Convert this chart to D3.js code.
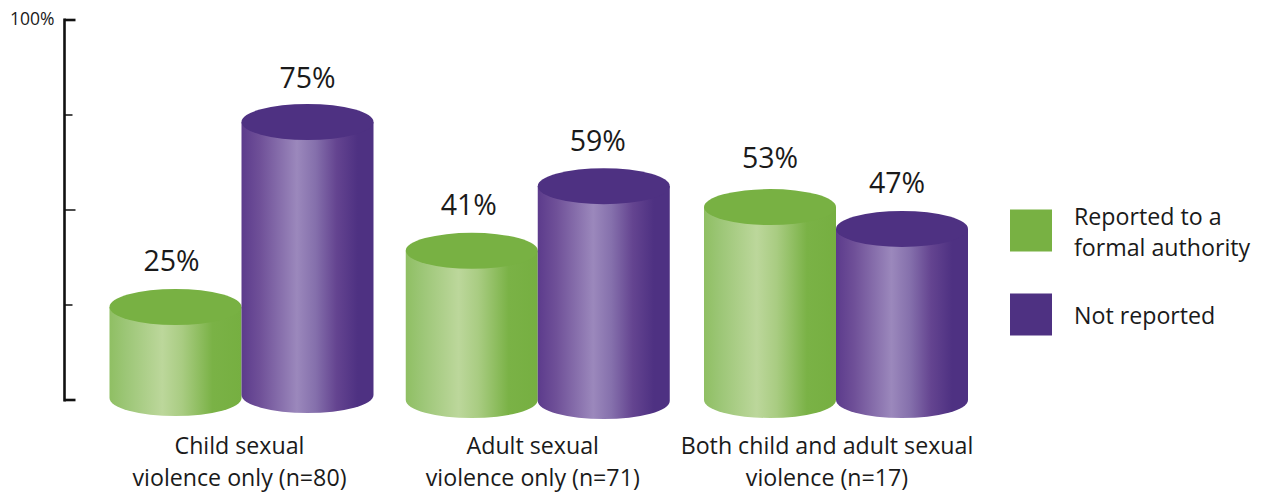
<!DOCTYPE html>
<html>
<head>
<meta charset="utf-8">
<script src="https://cdnjs.cloudflare.com/ajax/libs/d3/7.8.5/d3.min.js"></script>
<style>
  html, body { margin: 0; padding: 0; background: #fff; }
  svg { display: block; }
  text { font-family: "Open Sans", "Noto Sans", sans-serif; fill: #1a1a1a; }
</style>
</head>
<body>
<svg id="chart" width="1263" height="493"></svg>
<script>
// Share of survivors by reporting outcome, per violence category
const categories = [
  ["Child sexual", "violence only (n=80)"],
  ["Adult sexual", "violence only (n=71)"],
  ["Both child and adult sexual", "violence (n=17)"]
];
const reported = [25, 41, 53];
const notReported = [75, 59, 47];
const seriesNames = ["reported", "notReported"];
const legendLabels = [["Reported to a", "formal authority"], ["Not reported"]];
const axisTicks = [0, 25, 50, 75, 100];

// Hand placement: pairs are not evenly spaced and floors differ slightly
const pairNudge = [0, -1, 0];
const floorNudge = [[-2, -5], [0, 1], [0, 0]];
const labelDx = [[-4, 0], [-3, -6], [0, -5]];
const labelDy = [[-36, -34], [-36, -35], [-39, -36]];
const captionDx = [-2, -6, -9];

const svg = d3.select("#chart");
const W = 132, RY = 18;

const x = d3.scalePoint().domain(d3.range(categories.length)).range([241.5, 836]);
const axisY = d3.scaleLinear().domain([0, 100]).range([400, 20]);
const barH = d3.scaleLinear().domain([0, 100]).range([0, 364]);

const palette = {
  reported: { top: "#78b143", stops: [[0, "#8fbf63"], [0.12, "#9cc676"], [0.4, "#bcd79b"], [0.55, "#a9cc82"], [0.78, "#7ab246"], [1, "#76af41"]] },
  notReported: { top: "#4e3182", stops: [[0, "#5c3b8c"], [0.14, "#6f5098"], [0.42, "#9b88bc"], [0.56, "#8570ac"], [0.72, "#644490"], [0.88, "#4e3182"], [1, "#4e3182"]] }
};

const defs = svg.append("defs");
seriesNames.forEach(name => {
  const g = defs.append("linearGradient").attr("id", "side-" + name)
    .attr("x1", 0).attr("x2", 1).attr("y1", 0).attr("y2", 0);
  g.selectAll("stop").data(palette[name].stops).join("stop")
    .attr("offset", d => d[0]).attr("stop-color", d => d[1]);
});

// Value axis: spine with ticks, only the top one labelled
const axis = svg.append("g").attr("transform", "translate(64.5,0)");
axis.append("line").attr("y1", axisY(100) - 1.5).attr("y2", axisY(0) + 1.5)
  .attr("stroke", "#111").attr("stroke-width", 2.6);
axis.selectAll("line.tick").data(axisTicks).join("line").attr("class", "tick")
  .attr("x1", 0)
  .attr("x2", d => (d === 25 || d === 75) ? 8 : 11)
  .attr("y1", d => axisY(d)).attr("y2", d => axisY(d))
  .attr("stroke", "#111")
  .attr("stroke-width", d => (d === 0 || d === 100) ? 2.6 : 1.5);
axis.append("text").attr("x", -10).attr("y", axisY(100) + 5)
  .attr("text-anchor", "end").attr("font-size", 17.5).text("100%");

function cylinderPath(cx, topY, floorY) {
  const l = cx - W / 2, r = cx + W / 2, rx = W / 2;
  return `M${l},${topY} L${l},${floorY} A${rx},${RY} 0 0 0 ${r},${floorY} L${r},${topY} Z`;
}

// Left cylinder then right cylinder for each category
const bars = [];
categories.forEach((c, i) => {
  bars.push({ i, s: 0, name: "reported", value: reported[i] });
  bars.push({ i, s: 1, name: "notReported", value: notReported[i] });
});

svg.selectAll("g.cyl").data(bars).join("g").attr("class", "cyl")
  .each(function (d) {
    const cx = x(d.i) + pairNudge[d.i] + (d.s === 0 ? -W / 2 : W / 2);
    const floorY = 400 + floorNudge[d.i][d.s];
    const topY = floorY - barH(d.value);
    const g = d3.select(this);
    g.append("path").attr("d", cylinderPath(cx, topY, floorY)).attr("fill", `url(#side-${d.name})`);
    g.append("ellipse").attr("cx", cx).attr("cy", topY).attr("rx", W / 2).attr("ry", RY)
      .attr("fill", palette[d.name].top);
    g.append("text").attr("x", cx + labelDx[d.i][d.s]).attr("y", topY + labelDy[d.i][d.s])
      .attr("text-anchor", "middle").attr("font-size", 28.5).text(d.value + "%");
  });

// Category captions
svg.selectAll("g.cat").data(categories).join("g").attr("class", "cat")
  .each(function (lines, i) {
    d3.select(this).selectAll("text").data(lines).join("text")
      .attr("x", x(i) + captionDx[i]).attr("y", (d, k) => 454 + k * 32)
      .attr("text-anchor", "middle").attr("font-size", 23.2).text(d => d);
  });

// Legend
const legendSwatchY = d3.scalePoint().domain([0, 1]).range([209.5, 293.5]);
const legendTextY = [[225, 256], [324]];
const legend = svg.selectAll("g.leg").data(seriesNames).join("g").attr("class", "leg");
legend.append("rect").attr("x", 1010).attr("y", (d, i) => legendSwatchY(i))
  .attr("width", 42).attr("height", 42).attr("fill", d => palette[d].top);
legend.each(function (d, i) {
  d3.select(this).selectAll("text").data(legendLabels[i]).join("text")
    .attr("x", 1074).attr("y", (t, k) => legendTextY[i][k])
    .attr("font-size", 23.2).text(t => t);
});
</script>
</body>
</html>
